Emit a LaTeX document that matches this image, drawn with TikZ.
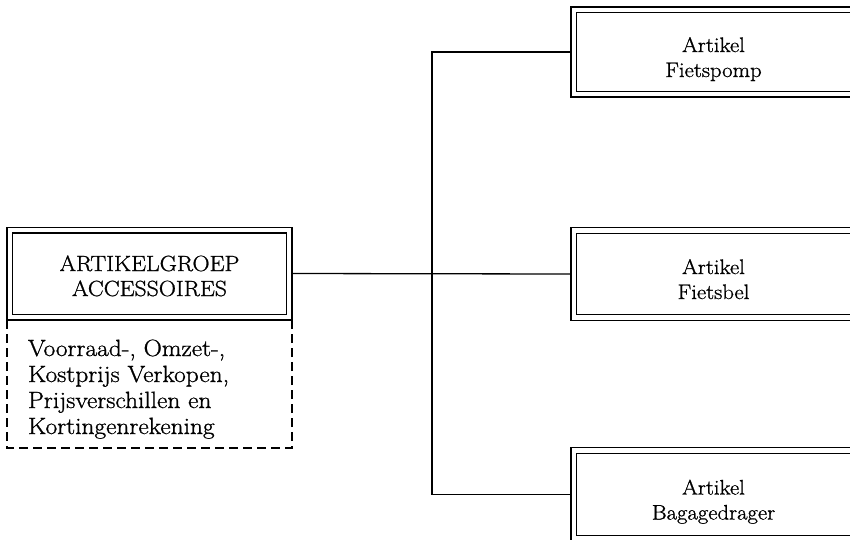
\documentclass[tikz,border=0pt]{standalone}
\usepackage{fontspec}
\setmainfont{Latin Modern Roman}[FakeBold=1, FakeStretch=1.08]

\tikzset{
  kader/.style={
    draw=black,
    line width=1.4pt,
    double,
    double distance=4.2pt,
    outer sep=3.5pt,
    inner sep=0pt,
    minimum width=279.5pt,
    minimum height=87pt,
    align=center,
    font=\fontsize{21}{25}\selectfont,
  },
  groepkader/.style={kader, font=\fontsize{22}{25}\selectfont, text height=47pt, text depth=2pt},
  artikelkader/.style={kader, text height=55pt, text depth=5pt},
  toelichting/.style={
    inner xsep=21pt,
    inner ysep=0pt,
    outer sep=0pt,
    minimum width=285pt,
    minimum height=128pt,
    text width=243pt,
    align=left,
    font=\fontsize{23.5}{26}\selectfont,
    text height=27pt,
    text depth=83pt,
  },
  lijn/.style={line width=1.3pt}
}

\begin{document}
\begin{tikzpicture}[x=1pt, y=-1pt]
            \useasboundingbox (0,0) rectangle (850,539);
            \clip (0,0) rectangle (850,539);

            \node[groepkader] (groep) at (149.5,273.5) {ARTIKELGROEP\\ACCESSOIRES};
            \node[toelichting] (kosten) at (149.5,384) {Voorraad-, Omzet-,\\Kostprijs Verkopen,\\Prijsverschillen en\\Kortingenrekening};

            \node[artikelkader, minimum height=84.5pt] (pomp) at (713.5,52) {Artikel\\Fietspomp};
            \node[artikelkader] (bel) at (713.5,274) {Artikel\\Fietsbel};
            \node[artikelkader, minimum height=88pt] (drager) at (713.5,494.5) {Artikel\\Bagagedrager};

            \coordinate (splitsing) at (432,273);

            \draw[lijn, dash pattern=on 9pt off 5pt] (kosten.north west) |- (kosten.south east) -- (kosten.north east);
            \draw[lijn] (groep.east) -- (bel.west);
            \draw[lijn] (pomp.west) -| (splitsing) |- (drager.west);
        \end{tikzpicture}
\end{document}
